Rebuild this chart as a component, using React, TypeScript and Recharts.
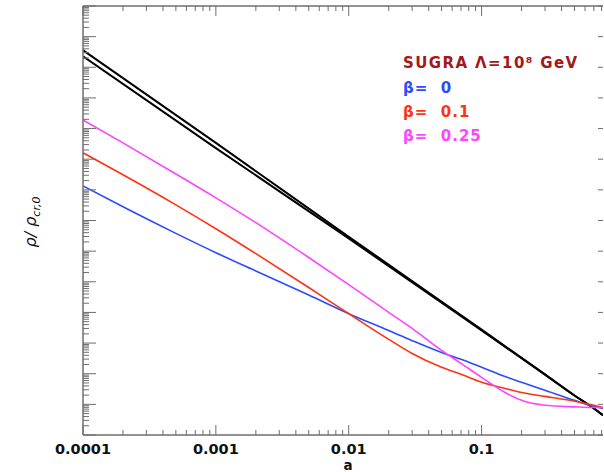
import { Line, LineChart, XAxis, YAxis } from "recharts";

// scale factor samples (x) and density values
const aSamples = [
  0.0001, 0.0002, 0.0005, 0.001, 0.002, 0.005, 0.01, 0.02, 0.03, 0.05, 0.07,
  0.1, 0.15, 0.2, 0.3, 0.5, 0.7, 0.82,
];
const beta0 = [
  1.35e7, 2.8e6, 3.8e5, 8.9e4, 2.24e4, 3.7e3, 912, 257, 120, 49, 29.5, 16.2,
  8.1, 5.25, 2.88, 1.35, 0.85, 0.74,
];
const beta01 = [
  1.62e8, 3.1e7, 3.24e6, 5.4e5, 8.3e4, 6.5e3, 912, 132, 45.7, 16.2, 9.55, 5.25,
  3.31, 2.45, 1.82, 1.26, 0.93, 0.79,
];
const beta025 = [
  1.9e9, 3.4e8, 3.3e7, 5.5e6, 8.5e5, 6.2e4, 8.1e3, 1.0e3, 300, 57.5, 21.7, 7.6,
  2.45, 1.35, 0.93, 0.83, 0.79, 0.79,
];

const aBlack = [0.0001, 0.001, 0.01, 0.1, 0.3, 0.5, 0.7, 0.82];
const matterUpper = [3.6e11, 3.4e8, 2.95e5, 275, 9.5, 1.95, 0.74, 0.44];
const matterLower = [2.3e11, 2.3e8, 2.6e5, 257, 9.3, 1.95, 0.74, 0.44];

const xDecades = [0.0001, 0.001, 0.01, 0.1];
const yDecadeExps = [-1, 0, 1, 2, 3, 4, 5, 6, 7, 8, 9, 10, 11, 12];

const X_MAX = 0.82;

const toPoints = (xs: number[], ys: number[]) =>
  xs.map((a, i) => ({ a, v: ys[i] }));

const xTicks: number[] = [];
xDecades.forEach((d) => {
  for (let m = 1; m <= 9; m++) if (d * m <= X_MAX) xTicks.push(d * m);
});

const yTicks: number[] = [];
yDecadeExps.forEach((e) => {
  for (let m = 1; m <= 9; m++) yTicks.push(m * Math.pow(10, e));
});
yTicks.push(1e13);
const yMajor = [...yDecadeExps.map((e) => Math.pow(10, e)), 1e13];

const isDecade = (v: number) => {
  const l = Math.log10(v);
  return Math.abs(l - Math.round(l)) < 1e-6;
};

const AXIS = "#6e6e6e";
const FONT = "DejaVu Sans, sans-serif";

const BottomTick = (props: any) => {
  const { x, y, payload } = props;
  const major = isDecade(payload.value);
  return (
    <g>
      <line x1={x} y1={y} x2={x} y2={y - (major ? 10 : 5)} stroke={AXIS} />
      {major && (
        <text
          x={x}
          y={y + 19}
          textAnchor="middle"
          fontFamily={FONT}
          fontWeight="bold"
          fontSize={14.5}
          fill="#111"
        >
          {String(payload.value)}
        </text>
      )}
    </g>
  );
};

const TopTick = (props: any) => {
  const { x, y, payload } = props;
  const major = isDecade(payload.value);
  return <line x1={x} y1={y} x2={x} y2={y + (major ? 10 : 5)} stroke={AXIS} />;
};

const LeftTick = (props: any) => {
  const { x, y, payload } = props;
  const major = isDecade(payload.value);
  return <line x1={x} y1={y} x2={x + (major ? 13 : 6)} y2={y} stroke={AXIS} />;
};

const RightTick = (props: any) => {
  const { x, y } = props;
  return <line x1={x} y1={y} x2={x - 5} y2={y} stroke={AXIS} />;
};

export default function App() {
  return (
    <div
      style={{
        position: "absolute",
        left: 0,
        top: 0,
        width: 604,
        height: 472,
        background: "#fff",
      }}
    >
      <LineChart
        width={604}
        height={472}
        margin={{ top: 5, right: 0, bottom: 36, left: 82 }}
      >
        <XAxis
          xAxisId="bottom"
          dataKey="a"
          type="number"
          scale="log"
          domain={[0.0001, X_MAX]}
          allowDataOverflow
          ticks={xTicks}
          interval={0}
          height={1}
          tickSize={0}
          tickMargin={0}
          stroke={AXIS}
          strokeWidth={1.5}
          tick={<BottomTick />}
        />
        <XAxis
          xAxisId="top"
          orientation="top"
          dataKey="a"
          type="number"
          scale="log"
          domain={[0.0001, X_MAX]}
          allowDataOverflow
          ticks={xTicks}
          interval={0}
          height={1}
          tickSize={0}
          tickMargin={0}
          stroke={AXIS}
          strokeWidth={1.5}
          tick={<TopTick />}
        />
        <YAxis
          yAxisId="left"
          type="number"
          scale="log"
          domain={[0.1, 1e13]}
          allowDataOverflow
          ticks={yTicks}
          interval={0}
          width={1}
          tickSize={0}
          tickMargin={0}
          stroke={AXIS}
          strokeWidth={1.5}
          tick={<LeftTick />}
        />
        <YAxis
          yAxisId="right"
          orientation="right"
          type="number"
          scale="log"
          domain={[0.1, 1e13]}
          allowDataOverflow
          ticks={yMajor}
          interval={0}
          width={1}
          tickSize={0}
          tickMargin={0}
          axisLine={false}
          stroke={AXIS}
          tick={<RightTick />}
        />
        <Line
          xAxisId="bottom"
          yAxisId="left"
          data={toPoints(aBlack, matterUpper)}
          dataKey="v"
          type="monotone"
          stroke="#000"
          strokeWidth={2}
          dot={false}
          isAnimationActive={false}
        />
        <Line
          xAxisId="bottom"
          yAxisId="left"
          data={toPoints(aBlack, matterLower)}
          dataKey="v"
          type="monotone"
          stroke="#000"
          strokeWidth={2}
          dot={false}
          isAnimationActive={false}
        />
        <Line
          xAxisId="bottom"
          yAxisId="left"
          data={toPoints(aSamples, beta0)}
          dataKey="v"
          type="monotone"
          stroke="#2a4bff"
          strokeWidth={1.6}
          dot={false}
          isAnimationActive={false}
        />
        <Line
          xAxisId="bottom"
          yAxisId="left"
          data={toPoints(aSamples, beta01)}
          dataKey="v"
          type="monotone"
          stroke="#ff3311"
          strokeWidth={1.6}
          dot={false}
          isAnimationActive={false}
        />
        <Line
          xAxisId="bottom"
          yAxisId="left"
          data={toPoints(aSamples, beta025)}
          dataKey="v"
          type="monotone"
          stroke="#ff44ff"
          strokeWidth={1.6}
          dot={false}
          isAnimationActive={false}
        />
      </LineChart>
      <svg
        width={604}
        height={472}
        style={{ position: "absolute", left: 0, top: 0, pointerEvents: "none" }}
      >
        <text
          transform="translate(36,222) rotate(-90)"
          textAnchor="middle"
          fontFamily={FONT}
          fontStyle="italic"
          fontSize={16}
          fill="#111"
        >
          ρ/ ρ
          <tspan fontSize={11} dy={4}>
            cr,0
          </tspan>
        </text>
        <text
          x={348}
          y={470}
          textAnchor="middle"
          fontFamily={FONT}
          fontWeight="bold"
          fontSize={13.5}
          fill="#111"
        >
          a
        </text>
        <g fontFamily={FONT} fontWeight="bold" fontSize={15}>
          <text x={403} y={68} fill="#a31818" letterSpacing={1.4}>
            SUGRA Λ=10⁸ GeV
          </text>
          <text x={403} y={93} fill="#2a4bff" letterSpacing={1}>
            β=&nbsp; 0
          </text>
          <text x={403} y={117} fill="#ff3311" letterSpacing={1}>
            β=&nbsp; 0.1
          </text>
          <text x={403} y={141} fill="#ff44ff" letterSpacing={1}>
            β=&nbsp; 0.25
          </text>
        </g>
      </svg>
    </div>
  );
}
